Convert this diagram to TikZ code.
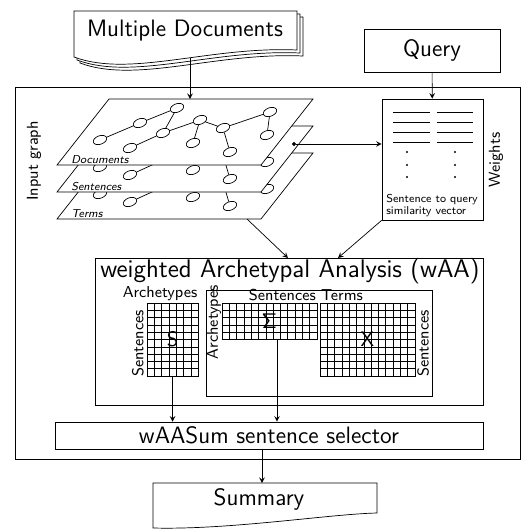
\documentclass[tikz,border=0pt]{standalone}
\usepackage{amsmath}
\usepackage{tikz}
\usetikzlibrary{shapes.geometric, arrows, arrows.meta}
\tikzstyle{block} = [rectangle, draw=black, fill=white, text centered, inner sep=0pt]
\tikzstyle{gnode} = [ellipse, draw=black, fill=white, rotate=20, minimum width=0.28cm, minimum height=0.17cm, inner sep=0pt]
\tikzstyle{layer} = [draw=black, fill=white]
\tikzstyle{matline} = [draw=black, line width=0.3pt]
\tikzstyle{matbox} = [rectangle, draw=black, inner sep=0pt, font=\large\sffamily]
\tikzstyle{arrow} = [->,>=stealth]
\tikzstyle{dotarrow} = [{Circle[length=2.2pt]}->,>=stealth]
\tikzstyle{bigtext} = [font=\fontsize{13.5}{16}\selectfont\sffamily]
\tikzstyle{smalltext} = [font=\small\sffamily, inner sep=0.5pt]
\tikzstyle{tinytext} = [font=\fontsize{6.5}{7}\selectfont\sffamily]
\tikzstyle{layerlabel} = [font=\fontsize{6.5}{7}\selectfont\sffamily\itshape, anchor=base west, inner sep=0pt]

\begin{document}
\begin{tikzpicture}[x=0.02cm, y=-0.02cm, font=\sffamily]
    \useasboundingbox (0,0) rectangle (522,529);

    % stack of input documents
    \foreach \o in {6,3,0}
        \filldraw[layer] ({74+\o},{11+\o}) -- ({297+\o},{11+\o}) -- ({297+\o},{50+\o}) .. controls ({210+\o},{46+\o}) and ({130+\o},{78+\o}) .. ({74+\o},{57+\o}) -- cycle;
    \node (docs) [bigtext] at (185,31) {Multiple Documents};
    \coordinate (docout) at (190,58);

    \node (query) [block, minimum width=2.72cm, minimum height=0.86cm, bigtext] at (432,50.5) {Query};

    % input graph frame
    \draw (15,87) rectangle (520.5,459);
    \node (inlab) [rotate=90, font=\small\sffamily] at (34,161) {Input graph};

    % three graph layers, back to front
    \foreach \l/\lab in {54/Terms, 27/Sentences, 0/Documents} {
        \filldraw[layer] (57,{165+\l}) -- (109,{99+\l}) -- (313,{99+\l}) -- (261,{165+\l}) -- cycle;
        \foreach \k/\gx/\gy in {1/100/140, 2/140/123, 3/177/108, 4/130/148, 5/163/133, 6/200/120, 7/193/143, 8/223/128, 9/230/152, 10/270/112, 11/267/135}
            \node (n\k-\l) [gnode] at (\gx,{\gy+\l}) {};
        \foreach \a/\b in {1/2, 2/3, 3/5, 4/5, 5/6, 6/7, 6/8, 8/9, 8/10, 10/11}
            \draw (n\a-\l) -- (n\b-\l);
        \node (lab-\l) [layerlabel] at (71,{163+\l}) {\lab};
    }
    \coordinate (gtop) at (190,99);
    \coordinate (sentout) at (292,144);
    \coordinate (gout) at (247,219);

    % weights box
    \node (wts) [block, minimum width=2.02cm, minimum height=2.42cm] at (432.5,159.5) {};
    \foreach \yy in {112,122,132,142} {
        \draw (393,\yy) -- (430,\yy);
        \draw (437,\yy) -- (473,\yy);
    }
    \foreach \yy in {152,165,177} {
        \fill (407,\yy) circle (0.6pt);
        \fill (455,\yy) circle (0.6pt);
    }
    \node (wtxt) [tinytext, anchor=north west, align=left, inner sep=0pt] at (386,194) {Sentence to query\\similarity vector};
    \node (wlab) [rotate=90, font=\small\sffamily] at (496,160) {Weights};

    % weighted archetypal analysis
    \node (waa) [block, minimum width=7.76cm, minimum height=2.94cm] at (289,331.5) {};
    \node (title) [font=\fontsize{14.5}{17}\selectfont\sffamily] at (290,271) {weighted Archetypal Analysis (wAA)};
    \node (inner) [block, minimum width=4.52cm, minimum height=2.12cm] at (319,343) {};
    \coordinate (waain) at (288,258);
    \coordinate (wtsin) at (338,258);

    % S, Sigma and X
    \draw[matline, shift={(147,303)}, xstep=0.146cm, ystep=0.146cm] (0,0) grid (51.1,73);
    \node (smat) [matbox, minimum width=1.022cm, minimum height=1.46cm] at (172.55,339.5) {S};
    \draw[matline, shift={(222,303)}, xstep=0.146cm, ystep=0.146cm] (0,0) grid (94.9,36.5);
    \node (sig) [matbox, minimum width=1.898cm, minimum height=0.73cm] at (269.45,321.25) {$\mathsf{\Sigma}$};
    \draw[matline, shift={(320,303)}, xstep=0.146cm, ystep=0.146cm] (0,0) grid (94.9,73);
    \node (xmat) [matbox, minimum width=1.898cm, minimum height=1.46cm] at (367.45,339.5) {X};

    \node (slab) [smalltext, anchor=south] at (160,302) {Archetypes};
    \node (sslab) [smalltext, rotate=90, anchor=south west] at (145,378) {Sentences};
    \node (siglab) [smalltext, anchor=south east] at (317,302) {Sentences};
    \node (alab) [smalltext, rotate=90] at (214,322) {Archetypes};
    \node (xlab) [smalltext, anchor=south west] at (320,302) {Terms};
    \node (xslab) [smalltext, rotate=90, anchor=north west] at (416,378) {Sentences};
    \coordinate (sigout) at (277,339.5);

    % sentence selection and output
    \node (wsum) [block, minimum width=8.56cm, minimum height=0.54cm, bigtext] at (269,435.5) {wAASum sentence selector};
    \filldraw[layer] (153,483) -- (377,483) -- (377,513) .. controls (330,514) and (230,530) .. (153,528) -- cycle;
    \node (summ) [bigtext] at (259,499) {Summary};
    \coordinate (sumtop) at (262,483);

    \draw [arrow] (docout) -- (gtop);
    \draw [arrow] (query) -- (wts);
    \draw [dotarrow] (sentout) -- (sentout -| wts.west);
    \draw [arrow] (gout) -- (waain);
    \draw [arrow] (wts.south west) -- (wtsin);
    \draw [arrow] (smat.south) -- (smat.south |- wsum.north);
    \draw [arrow] (sigout) -- (sigout |- wsum.north);
    \draw [arrow] (sumtop |- wsum.south) -- (sumtop);
\end{tikzpicture}
\end{document}
